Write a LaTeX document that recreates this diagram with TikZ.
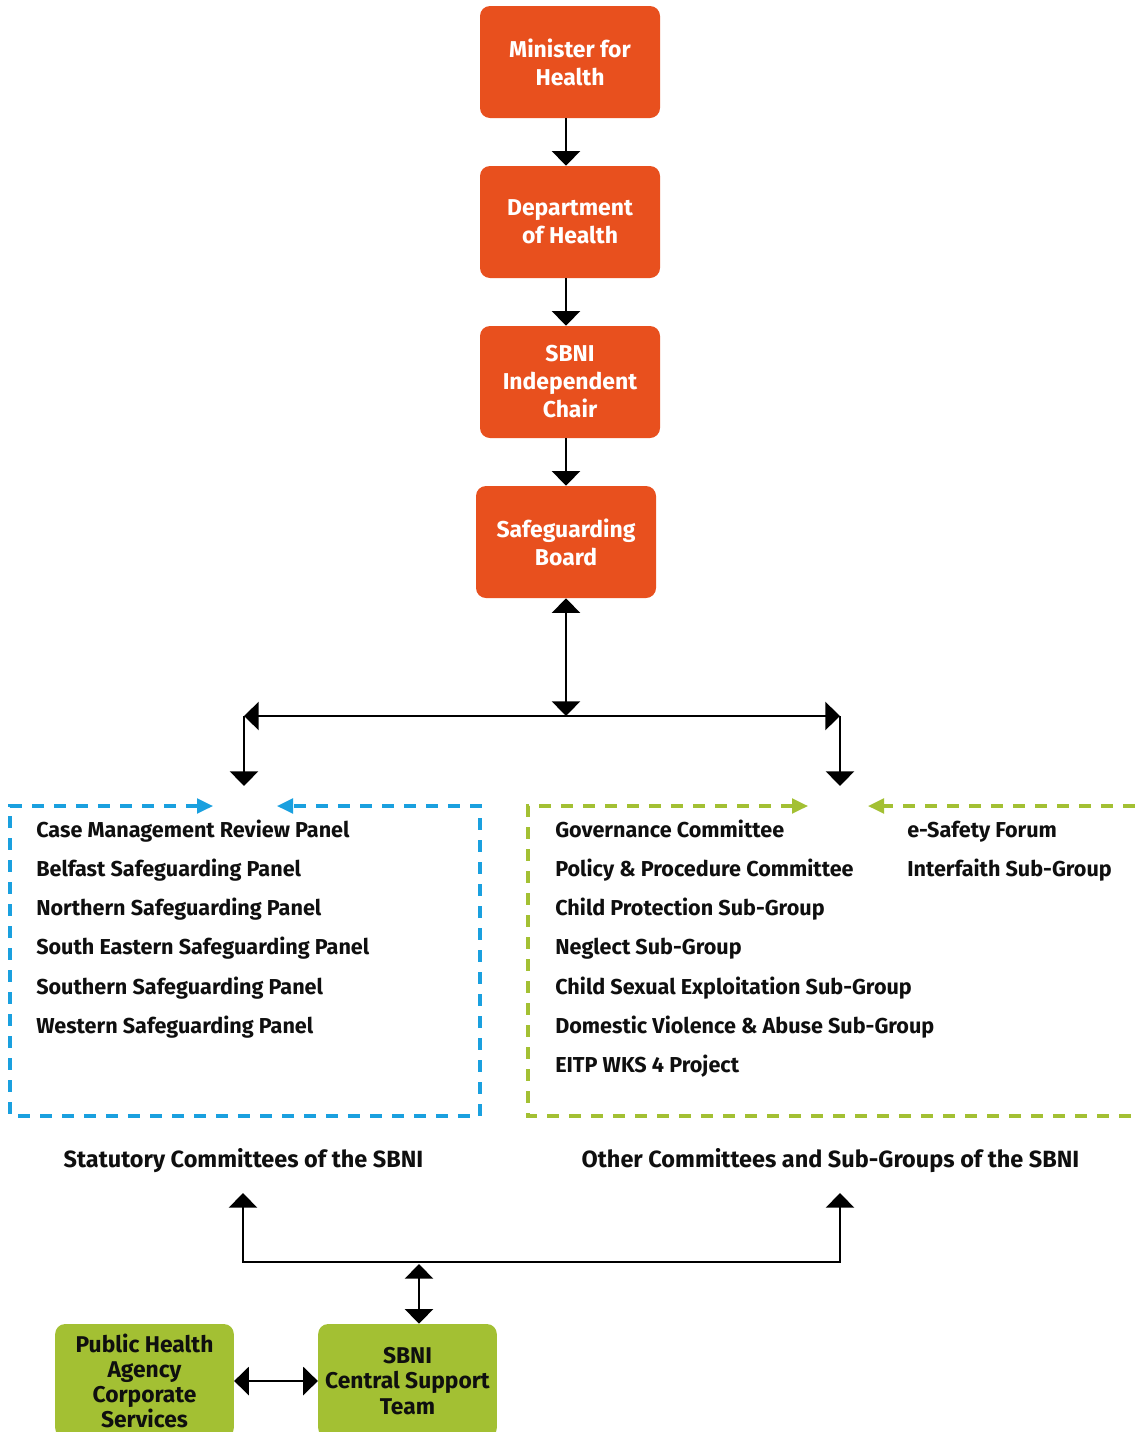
\documentclass[tikz,border=0pt]{standalone}
\usepackage{fontspec}
\setmainfont{Fira Sans}[BoldFont={Fira Sans Bold}]
\usetikzlibrary{arrows.meta}
\definecolor{sbnorange}{RGB}{232,80,30}
\definecolor{sbngreen}{RGB}{163,192,51}
\definecolor{sbnblue}{RGB}{26,160,223}
\definecolor{sbntext}{RGB}{15,15,15}
\begin{document}
\begin{tikzpicture}[x=0.75pt,y=-0.75pt,
  boxtext/.style={font=\bfseries\fontsize{17.2}{21}\selectfont, align=center, inner sep=0pt},
  orangebox/.style={boxtext, rectangle, rounded corners=7.5pt, fill=sbnorange, text=white,
    minimum width=135pt, minimum height=84pt},
  greenbox/.style={rectangle, rounded corners=7.5pt, fill=sbngreen, text=sbntext,
    font=\bfseries\fontsize{17.1}{18.9}\selectfont, align=center, inner sep=0pt,
    minimum width=134pt, minimum height=85.5pt},
  item/.style={anchor=base west, font=\bfseries\fontsize{16.2}{18}\selectfont, text=sbntext, inner sep=0pt, yshift=-5.5pt},
  caption/.style={font=\bfseries\fontsize{17.6}{20}\selectfont, text=sbntext, inner sep=0pt},
  conn/.style={line width=1.8pt, black},
  tip/.tip={Triangle[width=21pt,length=11pt]},
  dtip/.tip={Triangle[width=11pt,length=12pt]},
  dashbox/.style={line width=2.3pt, dash pattern=on 9pt off 7.5pt},
]
\useasboundingbox (0,0) rectangle (1135,1432);
\clip (0,0) rectangle (1135,1432);

% orange hierarchy
\node[orangebox] (minister) at (570,62) {Minister for\\Health};
\node[orangebox] (dept) at (570,222) {Department\\of Health};
\node[orangebox] (chair) at (570,382) {SBNI\\Independent\\Chair};
\node[orangebox] (board) at (566,542) {Safeguarding\\Board};

\draw[conn,-tip] (minister.south -| board.south) -- (dept.north -| board.south);
\draw[conn,-tip] (dept.south -| board.south) -- (chair.north -| board.south);
\draw[conn,-tip] (chair.south -| board.south) -- (board.north);

% distribution line
\coordinate (hl) at (244,716);
\coordinate (hr) at (840,716);
\coordinate (hm) at (566,716);
\coordinate (sa) at (244,786);
\coordinate (oa) at (840,786);
\draw[conn,tip-tip] (board.south) -- (hm);
\draw[conn,tip-tip] (hl) -- (hr);
\draw[conn,-tip] (hl) -- (sa);
\draw[conn,-tip] (hr) -- (oa);

% blue dashed box
\draw[dashbox, sbnblue, dtip-dtip] (213,806) -- (10,806) -- (10,1116) -- (480,1116) -- (480,806) -- (277,806);
% green dashed box
\draw[dashbox, sbngreen, dtip-dtip] (808,806) -- (528,806) -- (528,1116) -- (1170,1116) -- (1170,806) -- (868,806);

% statutory list
\node[item] (s1) at (36,830) {Case Management Review Panel};
\node[item] (s2) at (36,869) {Belfast Safeguarding Panel};
\node[item] (s3) at (36,908) {Northern Safeguarding Panel};
\node[item] (s4) at (36,947) {South Eastern Safeguarding Panel};
\node[item] (s5) at (36,987) {Southern Safeguarding Panel};
\node[item] (s6) at (36,1026) {Western Safeguarding Panel};

% other list
\node[item] (o1) at (555,830) {Governance Committee};
\node[item] (o2) at (555,869) {Policy \& Procedure Committee};
\node[item] (o3) at (555,908) {Child Protection Sub-Group};
\node[item] (o4) at (555,947) {Neglect Sub-Group};
\node[item] (o5) at (555,987) {Child Sexual Exploitation Sub-Group};
\node[item] (o6) at (555,1026) {Domestic Violence \& Abuse Sub-Group};
\node[item] (o7) at (555,1065) {EITP WKS 4 Project};
\node[item] (o8) at (907,830) {e-Safety Forum};
\node[item] (o9) at (907,869) {Interfaith Sub-Group};

% captions
\node[caption] (statcap) at (243.5,1161) {Statutory Committees of the SBNI};
\node[caption] (othcap) at (830.5,1161) {Other Committees and Sub-Groups of the SBNI};

% bottom connectors
\coordinate (bl) at (243,1262);
\coordinate (br) at (840,1262);
\coordinate (blt) at (243,1193);
\coordinate (brt) at (840,1193);
\coordinate (bm) at (419,1264);
\draw[conn,-tip] (br) -- (bl) -- (blt);
\draw[conn,-tip] (bl) -- (br) -- (brt);

% green boxes
\node[greenbox] (pha) at (144.5,1381) {Public Health\\Agency\\Corporate\\Services};
\node[greenbox] (cst) at (407.5,1381) {SBNI\\Central Support\\Team};
\draw[conn,tip-tip] (bm) -- (bm |- cst.north);
\draw[conn,tip-tip] (pha.east) -- (cst.west);
\end{tikzpicture}
\end{document}
